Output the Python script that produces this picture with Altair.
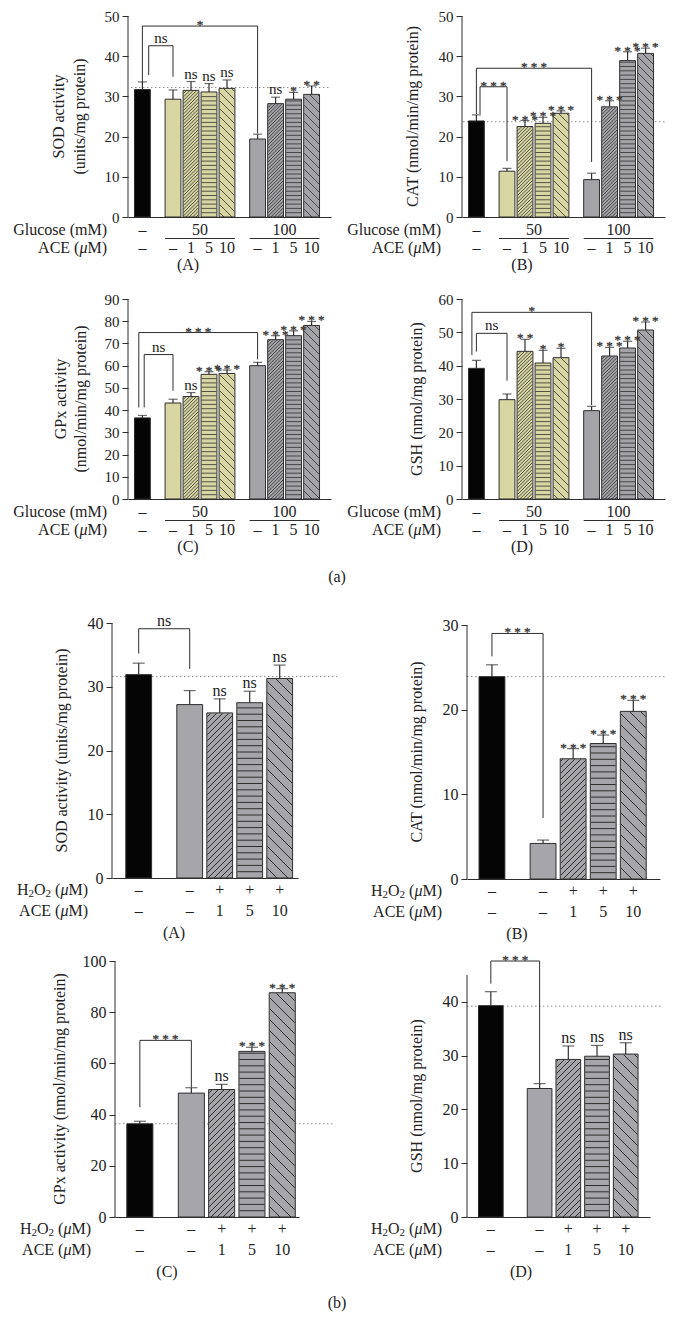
import altair as alt
import pandas as pd
import numpy as np

FONT = "Liberation Serif"
INK = "#222222"
LINE = "#2e2e2e"
FILLS = {"ctrl": "#050505", "g50": "#d8d6a3", "g100": "#a3a3a8", "h2o2": "#a5a5aa"}
CW, CH = 658, 1304   # whole drawing area (page minus the 8px margin)

# ---------------- section (a): glucose ----------------
a_glucose = ["–", "50", "50", "50", "50", "100", "100", "100", "100"]
a_ace = ["–", "–", "1", "5", "10", "–", "1", "5", "10"]
a_groups = [0, 1, 1, 1, 1, 2, 2, 2, 2]
a_fill = ["ctrl", "g50", "g50", "g50", "g50", "g100", "g100", "g100", "g100"]
a_hatch = ["", "", "/", "-", "\\", "", "/", "-", "\\"]

a_sod = [31.7, 29.3, 31.5, 31.1, 32.0, 19.4, 28.2, 29.3, 30.5]
a_sod_sem = [1.9, 2.3, 2.2, 2.1, 2.1, 1.2, 1.6, 1.7, 2.1]
a_sod_sig = ["", "", "ns", "ns", "ns", "", "ns", "*", "**"]
a_sod_ref = 32.2
# (from bar, to bar, top, left-leg bottom, right-leg bottom, label, left-leg shift)
a_sod_brackets = [(0, 1, 42.6, 35.3, 34.9, "ns", 0.35), (0, 5, 47.5, 33.6, 20.8, "*", 0.0)]

a_cat = [23.9, 11.4, 22.5, 23.3, 25.8, 9.3, 27.4, 38.9, 40.7]
a_cat_sem = [1.5, 0.7, 1.5, 1.5, 0.6, 1.6, 1.5, 2.2, 1.3]
a_cat_sig = ["", "", "***", "***", "***", "", "***", "***", "***"]
a_cat_ref = 23.7
a_cat_brackets = [(0, 1, 32.4, 25.6, 13.9, "***", 0.2), (0, 5, 37.0, 25.6, 13.7, "***", 0.0)]

a_gpx = [36.5, 43.2, 46.1, 56.1, 56.5, 60.0, 71.7, 73.5, 78.1]
a_gpx_sem = [1.1, 1.7, 1.8, 1.2, 1.5, 1.5, 1.8, 2.2, 1.8]
a_gpx_sig = ["", "", "ns", "***", "***", "", "***", "***", "***"]
a_gpx_brackets = [(0, 1, 65.0, 41.2, 48.7, "ns", 0.1), (0, 5, 74.9, 41.2, 62.8, "***", -0.2)]

a_gsh = [39.2, 29.8, 44.3, 40.8, 42.4, 26.5, 42.9, 45.3, 50.7]
a_gsh_sem = [2.4, 1.7, 3.6, 3.8, 2.8, 1.3, 2.6, 2.0, 2.4]
a_gsh_sig = ["", "", "**", "*", "*", "", "***", "***", "***"]
a_gsh_brackets = [(0, 1, 49.7, 44.2, 35.5, "ns", 0.0), (0, 5, 56.0, 43.2, 28.2, "*", -0.25)]

# ---------------- section (b): H2O2 ----------------
b_h2o2 = ["–", "–", "+", "+", "+"]
b_ace = ["–", "–", "1", "5", "10"]
b_groups = [0, 1, 1, 1, 1]
b_fill = ["ctrl", "h2o2", "h2o2", "h2o2", "h2o2"]
b_hatch = ["", "", "/", "-", "\\"]

b_sod = [31.9, 27.2, 25.9, 27.5, 31.3]
b_sod_sem = [1.8, 2.2, 2.2, 1.8, 2.1]
b_sod_sig = ["", "", "ns", "ns", "ns"]
b_sod_ref = 31.6
b_sod_brackets = [(0, 1, 39.1, 35.2, 32.8, "ns", 0.0)]

b_cat = [23.9, 4.2, 14.2, 16.0, 19.8]
b_cat_sem = [1.4, 0.4, 1.2, 1.0, 1.3]
b_cat_sig = ["", "", "***", "***", "***"]
b_cat_ref = 23.9
b_cat_brackets = [(0, 1, 29.0, 26.3, 7.2, "***", 0.0)]

b_gpx = [36.4, 48.4, 49.8, 64.7, 87.6]
b_gpx_sem = [1.0, 2.1, 2.0, 1.6, 1.6]
b_gpx_sig = ["", "", "ns", "***", "***"]
b_gpx_ref = 36.4
b_gpx_brackets = [(0, 1, 69.0, 42.9, 50.7, "***", 0.0)]

b_gsh = [39.3, 23.9, 29.3, 29.9, 30.3]
b_gsh_sem = [2.6, 0.9, 2.5, 2.0, 2.1]
b_gsh_sig = ["", "", "ns", "ns", "ns"]
b_gsh_ref = 39.2
b_gsh_brackets = [(0, 1, 47.6, 43.4, 24.5, "***", 0.0)]

GAP = 0.7
ONE = pd.DataFrame({"k": [0]})

# approximate Times-like advance widths (em) for laying out mixed-style labels
TW = {"A": .722, "C": .667, "E": .611, " ": .25, "(": .333, ")": .333, "M": .889,
      "H": .722, "O": .722, "2": .5, "μ": .5, "G": .722, "l": .278, "u": .5,
      "c": .444, "o": .5, "s": .389, "e": .444, "m": .778}


def run_width(t, fs):
    return sum(TW.get(ch, 0.5) for ch in t) * fs


def name_layers(runs, right_x, y):
    out = []
    x = right_x
    for t, fs, ital, dy in reversed(runs):
        out.append(alt.Chart(ONE).mark_text(text=t, font=FONT, fontSize=fs,
                                            fontStyle="italic" if ital else "normal",
                                            align="right", baseline="middle", color=INK)
                   .encode(x=alt.value(x), y=alt.value(y + dy)))
        x -= run_width(t, fs)
    return out


def fmt(s):
    return " ".join(s) if s.startswith("*") else s


def hatch_df(pos, vals, kinds, hw, xmin, ppx, ppy, sp):
    rows = []
    for p, v, k in zip(pos, vals, kinds):
        if not k:
            continue
        X0 = (p - hw - xmin) * ppx + 0.5
        X1 = (p + hw - xmin) * ppx - 0.5
        Yv = v * ppy - 0.5
        segs = []
        if k == "-":
            d = sp["-"]
            yy = d
            while yy < Yv - 0.3:
                segs.append((X0, X1, yy, yy))
                yy += d
        elif k == "/":
            d = sp["/"]
            c = np.floor(-X1 / d) * d
            while c < Yv - X0:
                xa, xb = max(X0, -c), min(X1, Yv - c)
                if xb - xa > 0.2:
                    segs.append((xa, xb, xa + c, xb + c))
                c += d
        else:
            d = sp["\\"]
            c = np.floor(X0 / d) * d
            while c < X1 + Yv:
                xa, xb = max(X0, c - Yv), min(X1, c)
                if xb - xa > 0.2:
                    segs.append((xa, xb, c - xa, c - xb))
                c += d
        for xa, xb, ya, yb in segs:
            rows.append({"x": xa / ppx + xmin, "x2": xb / ppx + xmin,
                         "y": ya / ppy, "y2": yb / ppy})
    return pd.DataFrame(rows)


def panel(c):
    x0, ytop, W, H = c["x0"], c["ytop"], c["W"], c["H"]
    ybot = ytop + H
    xmin, xmax, ymax = c["xmin"], c["xmax"], c["ymax"]
    ppx, ppy = W / (xmax - xmin), H / ymax
    pos = [i + GAP * g for i, g in enumerate(c["groups"])]
    hw = c["hw"]
    xs = alt.Scale(domain=[xmin, xmax], range=[x0, x0 + W], nice=False, zero=False)
    ys = alt.Scale(domain=[0, ymax], range=[ybot, ytop], nice=False, zero=False)
    xaxis = alt.Axis(orient="bottom", offset=-(CH - ybot), labels=False, ticks=False, grid=False,
                     domain=True, title=None, domainColor=LINE, domainWidth=1)
    yaxis = alt.Axis(orient="left", offset=-x0, values=c["yticks"], grid=False, domain=False,
                     ticks=True, tickSize=6, tickColor=LINE, tickWidth=1, labelFont=FONT,
                     labelFontSize=c["lfs"], labelColor=INK, labelPadding=3, title=None)

    def X(f, axis=None):
        return alt.X(f, type="quantitative", scale=xs, axis=axis, title=None)

    def Y(f, axis=None):
        return alt.Y(f, type="quantitative", scale=ys, axis=axis, title=None)

    err = [m + s for m, s in zip(c["mean"], c["sem"])]
    bars = pd.DataFrame({"pos": pos, "lo": [p - hw for p in pos], "hi": [p + hw for p in pos],
                         "zero": 0.0, "val": c["mean"], "err": err,
                         "fill": [FILLS[f] for f in c["fill"]]})
    L = []
    if c.get("ref") is not None:
        L.append(alt.Chart(pd.DataFrame({"ref": [c["ref"]]}))
                 .mark_rule(color="#8c8c8c", strokeDash=[1.5, 2.5], strokeWidth=1)
                 .encode(x=alt.value(x0 + c["ref_x0"]), x2=alt.value(x0 + W + c["ref_ext"]),
                         y=Y("ref")))
    L.append(alt.Chart(bars).mark_rect().encode(
        x=X("lo", xaxis), x2="hi", y=Y("zero", yaxis), y2="val",
        fill=alt.Fill("fill:N", scale=None)))
    hd = hatch_df(pos, c["mean"], c["hatch"], hw, xmin, ppx, ppy, c["sp"])
    L.append(alt.Chart(hd).mark_rule(color=LINE, strokeWidth=c["hlw"])
             .encode(x=X("x"), x2="x2", y=Y("y"), y2="y2"))
    L.append(alt.Chart(bars).mark_rect(filled=False, color=LINE, strokeWidth=1)
             .encode(x=X("lo"), x2="hi", y=Y("zero"), y2="val"))
    # error bars
    L.append(alt.Chart(bars).mark_rule(color=LINE, strokeWidth=1.2)
             .encode(x=X("pos"), y=Y("val"), y2="err"))
    L.append(alt.Chart(bars).mark_tick(orient="horizontal", size=c["cap"], thickness=1.2, color=LINE)
             .encode(x=X("pos"), y=Y("err")))
    # brackets
    br = []
    for (i, j, top, lb, rb, s, sh) in c["brackets"]:
        xl = pos[i] + sh
        br += [dict(x=xl, x2=pos[j], y=top, y2=top),
               dict(x=xl, x2=xl, y=lb, y2=top),
               dict(x=pos[j], x2=pos[j], y=rb, y2=top)]
    L.append(alt.Chart(pd.DataFrame(br)).mark_rule(color=LINE, strokeWidth=1)
             .encode(x=X("x"), x2="x2", y=Y("y"), y2="y2"))
    # significance labels
    lab = []
    for p, e, s in zip(pos, err, c["sig"]):
        if s:
            lab.append({"x": p, "y": e, "t": fmt(s), "ast": s.startswith("*")})
    for (i, j, top, lb, rb, s, sh) in c["brackets"]:
        lab.append({"x": (pos[i] + sh + pos[j]) / 2, "y": top, "t": fmt(s),
                    "ast": s.startswith("*")})
    labdf = pd.DataFrame(lab)
    ns = labdf[~labdf["ast"]].drop(columns="ast")
    ast = labdf[labdf["ast"]].drop(columns="ast")
    if len(ns):
        L.append(alt.Chart(ns).mark_text(font=FONT, fontSize=c["lfs"], baseline="alphabetic",
                                         dy=-3, color=INK)
                 .encode(x=X("x"), y=Y("y"), text="t:N"))
    if len(ast):
        L.append(alt.Chart(ast).mark_text(font=FONT, fontSize=13, baseline="alphabetic",
                                          dy=3, color="#2a2a2a", opacity=0.99,
                                          stroke="#3a3a3a", strokeWidth=0.35)
                 .encode(x=X("x"), y=Y("y"), text="t:N"))
    # rows under the axis
    if c["collapse"]:
        r1, ul = [], []
        for g in sorted(set(c["groups"])):
            idx = [k for k, gg in enumerate(c["groups"]) if gg == g]
            r1.append({"x": float(np.mean([pos[k] for k in idx])), "t": c["row1"][idx[0]]})
            if len(idx) > 1:
                ul.append({"x": pos[idx[0]] - hw, "x2": pos[idx[-1]] + hw})
        L.append(alt.Chart(pd.DataFrame(ul)).mark_rule(color=LINE, strokeWidth=1)
                 .encode(x=X("x"), x2="x2", y=alt.value(ybot + c["ul_off"])))
    else:
        r1 = [{"x": p, "t": t} for p, t in zip(pos, c["row1"])]
    L.append(alt.Chart(pd.DataFrame(r1)).mark_text(font=FONT, fontSize=c["rfs"], baseline="middle",
                                                   color=INK)
             .encode(x=X("x"), y=alt.value(ybot + c["r1_off"]), text="t:N"))
    r2 = [{"x": p, "t": t} for p, t in zip(pos, c["row2"])]
    L.append(alt.Chart(pd.DataFrame(r2)).mark_text(font=FONT, fontSize=c["rfs"], baseline="middle",
                                                   color=INK)
             .encode(x=X("x"), y=alt.value(ybot + c["r2_off"]), text="t:N"))
    L += name_layers(c["name1"], x0 + c["name_x"], ybot + c["r1_off"])
    L += name_layers(c["name2"], x0 + c["name_x"], ybot + c["r2_off"])
    L.append(alt.Chart(ONE).mark_text(text=c["letter"], font=FONT, fontSize=c["rfs"],
                                      baseline="middle", color=INK)
             .encode(x=alt.value(x0 + c["letter_x"]), y=alt.value(ybot + c["letter_off"])))
    # y-axis title(s) as rotated text
    titles = c["title"] if isinstance(c["title"], list) else [c["title"]]
    for t, tx in zip(titles, c["titleX"]):
        L.append(alt.Chart(ONE).mark_text(text=t, font=FONT, fontSize=c["tfs"], angle=270,
                                          align="center", baseline="middle", color=INK)
                 .encode(x=alt.value(x0 + tx), y=alt.value(ytop + H / 2)))
    # y-axis line
    L.append(alt.Chart(pd.DataFrame({"zero": [0.0], "top": [c["axis_top"]]}))
             .mark_rule(color=LINE, strokeWidth=1).encode(x=alt.value(x0), y=Y("zero"), y2="top"))
    if c.get("extra"):
        t, ex, ey = c["extra"]
        L.append(alt.Chart(ONE).mark_text(text=t, font=FONT, fontSize=c["rfs"],
                                          baseline="middle", color=INK)
                 .encode(x=alt.value(ex), y=alt.value(ey)))
    return L


FS = 16
ACE_RUNS = [("ACE (", FS, False, 0), ("μ", FS, True, 0), ("M)", FS, False, 0)]
GLU_RUNS = [("Glucose (mM)", FS, False, 0)]
H2O2_RUNS = [("H", FS, False, 0), ("2", 11, False, 4), ("O", FS, False, 0), ("2", 11, False, 4),
             (" (", FS, False, 0), ("μ", FS, True, 0), ("M)", FS, False, 0)]

SEC_A = dict(groups=a_groups, fill=a_fill, hatch=a_hatch, row1=a_glucose, row2=a_ace, collapse=True,
             W=203, xmin=-0.8, xmax=-0.8 + 203 / 18, hw=0.44, cap=9, lfs=15, tfs=16, rfs=FS,
             sp={"/": 3.4, "-": 4.3, "\\": 8.0}, hlw=0.8,
             r1_off=13, ul_off=21.5, r2_off=31, letter_off=48, letter_x=60,
             name1=GLU_RUNS, name2=ACE_RUNS, name_x=-21, ref_x0=3, ref_ext=0)
SEC_B = dict(groups=b_groups, fill=b_fill, hatch=b_hatch, row1=b_h2o2, row2=b_ace, collapse=False,
             hw=0.43, cap=12, lfs=16, tfs=16, rfs=FS, sp={"/": 6.0, "-": 6.3, "\\": 11.0}, hlw=1.0,
             r1_off=12, r2_off=33, letter_off=55,
             name1=H2O2_RUNS, name2=ACE_RUNS, name_x=-24, ref_x0=0)

layers = []
layers += panel({**SEC_A, "x0": 120, "ytop": 8, "H": 201, "mean": a_sod, "sem": a_sod_sem,
                 "sig": a_sod_sig, "ref": a_sod_ref, "brackets": a_sod_brackets, "ymax": 50,
                 "axis_top": 50, "yticks": [0, 10, 20, 30, 40, 50],
                 "title": ["SOD activity", "(units/mg protein)"], "titleX": [-69, -48],
                 "letter": "(A)"})
layers += panel({**SEC_A, "x0": 454, "ytop": 8, "H": 201, "mean": a_cat, "sem": a_cat_sem,
                 "sig": a_cat_sig, "ref": a_cat_ref, "brackets": a_cat_brackets, "ymax": 50,
                 "axis_top": 50, "yticks": [0, 10, 20, 30, 40, 50],
                 "title": "CAT (nmol/min/mg protein)", "titleX": [-49], "letter": "(B)", "ref_x0": 1})
layers += panel({**SEC_A, "x0": 120, "ytop": 291, "H": 200, "mean": a_gpx, "sem": a_gpx_sem,
                 "sig": a_gpx_sig, "ref": None, "brackets": a_gpx_brackets, "ymax": 90,
                 "axis_top": 90, "yticks": list(range(0, 91, 10)),
                 "title": ["GPx activity", "(nmol/min/mg protein)"], "titleX": [-67, -47],
                 "letter": "(C)", "extra": ("(a)", 329, 569)})
layers += panel({**SEC_A, "x0": 454, "ytop": 291, "H": 200, "mean": a_gsh, "sem": a_gsh_sem,
                 "sig": a_gsh_sig, "ref": None, "brackets": a_gsh_brackets, "ymax": 60,
                 "axis_top": 60, "yticks": list(range(0, 61, 10)),
                 "title": "GSH (nmol/mg protein)", "titleX": [-45], "letter": "(D)"})
layers += panel({**SEC_B, "x0": 104, "ytop": 615, "H": 255, "W": 186, "xmin": -0.89,
                 "xmax": -0.89 + 186 / 30, "mean": b_sod, "sem": b_sod_sem, "sig": b_sod_sig,
                 "ref": b_sod_ref, "ref_ext": 39, "brackets": b_sod_brackets, "ymax": 40,
                 "axis_top": 40, "yticks": [0, 10, 20, 30, 40],
                 "title": "SOD activity (units/mg protein)", "titleX": [-50], "letter": "(A)",
                 "letter_x": 62})
layers += panel({**SEC_B, "x0": 459, "ytop": 617, "H": 254, "W": 193, "xmin": -0.83,
                 "xmax": -0.83 + 193 / 30.07, "mean": b_cat, "sem": b_cat_sem, "sig": b_cat_sig,
                 "ref": b_cat_ref, "ref_ext": 5, "brackets": b_cat_brackets, "ymax": 30,
                 "axis_top": 30, "yticks": [0, 10, 20, 30], "title": "CAT (nmol/min/mg protein)",
                 "titleX": [-50], "letter": "(B)", "letter_x": 50, "name_x": -25})
layers += panel({**SEC_B, "x0": 107, "ytop": 953, "H": 256, "W": 184, "xmin": -0.82,
                 "xmax": -0.82 + 184 / 30.3, "mean": b_gpx, "sem": b_gpx_sem, "sig": b_gpx_sig,
                 "ref": b_gpx_ref, "ref_ext": 34, "brackets": b_gpx_brackets, "ymax": 100,
                 "axis_top": 100, "yticks": [0, 20, 40, 60, 80, 100],
                 "title": "GPx activity (nmol/min/mg protein)", "titleX": [-55], "letter": "(C)",
                 "letter_x": 52, "extra": ("(b)", 329, 1295)})
layers += panel({**SEC_B, "x0": 459, "ytop": 967, "H": 242, "W": 183, "xmin": -0.83,
                 "xmax": -0.83 + 183 / 28.7, "mean": b_gsh, "sem": b_gsh_sem, "sig": b_gsh_sig,
                 "ref": b_gsh_ref, "ref_ext": 13, "brackets": b_gsh_brackets, "ymax": 45,
                 "axis_top": 45, "yticks": [0, 10, 20, 30, 40], "title": "GSH (nmol/mg protein)",
                 "titleX": [-50], "letter": "(D)", "letter_x": 54, "name_x": -25})

chart = (alt.layer(*layers)
         .resolve_scale(x="independent", y="independent")
         .properties(width=CW, height=CH, padding=0, autosize=alt.AutoSizeParams(type="none"))
         .configure_view(strokeWidth=0))

chart.save("out.html", embed_options={"renderer": "svg", "actions": False})
